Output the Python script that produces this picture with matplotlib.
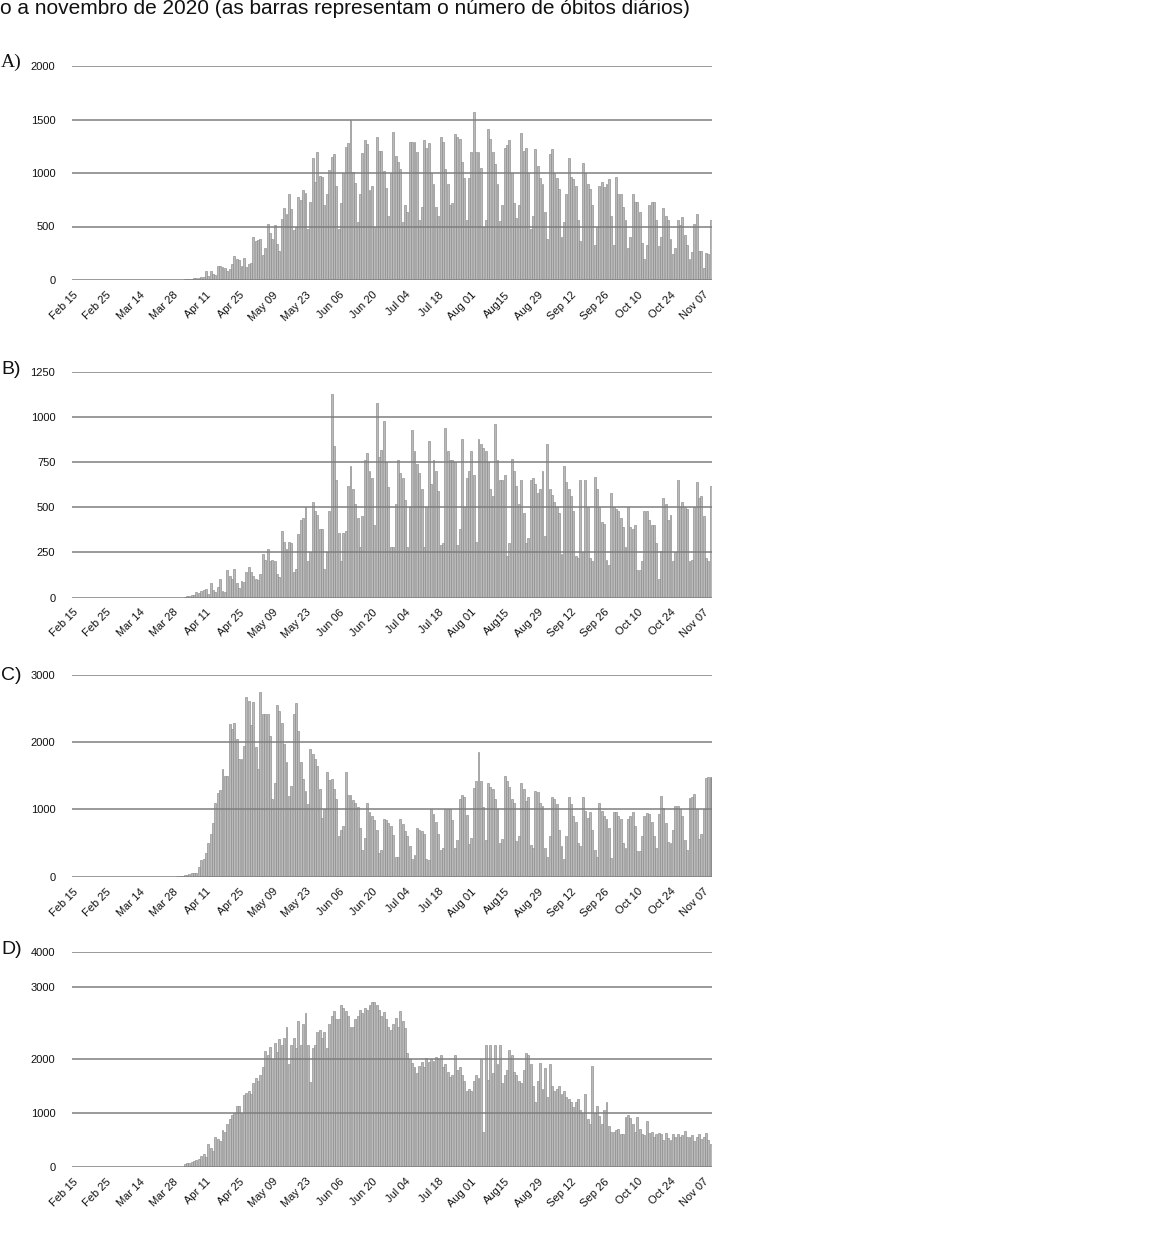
import numpy as np
import matplotlib
matplotlib.use("Agg")
import matplotlib.pyplot as plt

# ---------------- data (daily deaths) ----------------
tick_labels = ["Feb 15", "Feb 25", "Mar 14", "Mar 28", "Apr 11", "Apr 25", "May 09",
               "May 23", "Jun 06", "Jun 20", "Jul 04", "Jul 18", "Aug 01", "Aug15",
               "Aug 29", "Sep 12", "Sep 26", "Oct 10", "Oct 24", "Nov 07"]
tick_days = [0, 14, 28, 42, 56, 70, 84, 98, 112, 126, 140, 154, 168, 182,
             196, 210, 224, 238, 252, 266]

a_start = 47
a_vals = [5, 8, 10, 12, 15, 18, 20,
          25, 30, 80, 40, 82, 60, 50,
          135, 130, 120, 115, 80, 100, 150,
          220, 200, 190, 130, 210, 120, 150,
          160, 400, 360, 370, 380, 230, 300,
          520, 440, 380, 510, 340, 270, 570,
          670, 620, 800, 660, 470, 500, 780,
          750, 840, 810, 480, 730, 1140, 920,
          1200, 970, 960, 700, 800, 1030, 1150,
          1180, 880, 480, 720, 1000, 1240, 1280,
          1500, 1010, 910, 540, 800, 1190, 1310,
          1270, 840, 880, 500, 1340, 1210, 1210, 1020, 860, 600,
          1000, 1380, 1160, 1100, 1040, 540, 700, 640, 1290, 1290,
          1290, 1200, 560, 680, 1310, 1230, 1280, 1000, 900, 680,
          600, 1340, 1290, 1040, 900, 700, 720, 1360, 1340, 1320,
          1100, 950, 560, 950, 1200, 1570, 1200, 1200, 1050, 500,
          560, 1410, 1320, 1200, 1080, 900, 550, 700, 1230, 1260,
          1310, 1000, 720, 580, 700, 1370, 1210, 1230, 1000, 480,
          600, 1220, 1070, 950, 900, 640, 380, 1180, 1220, 1000,
          950, 850, 400, 540, 800, 1140, 960, 940, 880, 560,
          360, 1090, 1000, 900, 850, 700, 330, 500, 880, 920,
          870, 900, 940, 600, 330, 960, 800, 800, 680, 560,
          300, 400, 800, 730, 730, 640, 350, 200, 330, 700,
          730, 730, 560, 320, 400, 670, 600, 560, 380, 240,
          300, 560, 510, 590, 420, 330, 200, 260, 520, 620,
          270, 270, 110, 250, 240, 560]

b_start = 47
b_vals = [5, 8, 10, 12, 15, 30, 25,
          35, 40, 45, 20, 80, 40, 30,
          60, 105, 35, 30, 150, 120, 100,
          160, 80, 50, 90, 85, 140, 170,
          140, 120, 100, 95, 130, 240, 210,
          270, 200, 210, 200, 130, 115, 370,
          310, 270, 310, 300, 140, 160, 350,
          430, 440, 500, 200, 250, 530, 480,
          460, 380, 380, 160, 250, 480, 1130,
          840, 650, 360, 200, 360, 370, 620,
          730, 600, 520, 440, 280, 450, 760,
          800, 700, 660, 400, 1080, 780, 820,
          980, 750, 610, 280, 280, 520, 760,
          690, 660, 540, 280, 500, 930, 810,
          740, 690, 600, 280, 500, 870, 630,
          760, 700, 590, 290, 300, 940, 810,
          760, 760, 750, 290, 380, 880, 500,
          660, 700, 810, 680, 310, 880, 850,
          830, 810, 750, 600, 560, 960, 760,
          650, 650, 680, 230, 300, 770, 700,
          620, 520, 650, 470, 300, 330, 650,
          660, 630, 580, 600, 700, 340, 850,
          600, 570, 530, 500, 470, 240, 730,
          640, 600, 560, 480, 230, 220, 650,
          250, 650, 500, 220, 200, 670, 600,
          500, 420, 410, 210, 180, 580, 500,
          490, 480, 440, 390, 280, 500, 390,
          380, 400, 150, 150, 200, 480, 480,
          430, 400, 400, 300, 100, 260, 550,
          520, 430, 460, 200, 250, 650, 500,
          530, 500, 490, 200, 210, 500, 640,
          550, 560, 450, 220, 200, 620]

c_start = 44
c_vals = [5, 10, 15, 20, 30, 40, 50,
          60, 60, 150, 250, 270, 350, 500,
          640, 800, 1100, 1250, 1290, 1600, 1500,
          1500, 2270, 2200, 2280, 2050, 1750, 1750,
          1950, 2680, 2620, 2250, 2600, 1930, 1600,
          2740, 2420, 2420, 2420, 2100, 1150, 1400,
          2550, 2460, 2280, 1980, 1700, 1200, 1350,
          2420, 2580, 2170, 1700, 1450, 1280, 1080,
          1900, 1820, 1750, 1640, 1300, 880, 1000,
          1560, 1440, 1450, 1300, 1150, 610, 700,
          760, 1560, 1220, 1220,
          1140, 1100, 1030, 720, 400, 570, 1100, 960, 900, 850,
          700, 350, 400, 860, 840, 800, 750, 620, 300, 300,
          860, 780, 680, 600, 460, 260, 320, 720, 700, 680,
          630, 260, 250, 1000, 930, 820, 630, 400, 420, 1000,
          1000, 1000, 850, 420, 550, 1150, 1210, 1180, 920, 480,
          580, 1320, 1420, 1850, 1420, 1040, 550, 1400, 1330, 1300,
          1150, 1000, 500, 560, 1500, 1420, 1340, 1150, 1100, 530,
          600, 1400, 1300, 1130, 1180, 470, 430, 1280, 1260, 1100,
          1050, 420, 300, 600, 1190, 1150, 1080, 700, 450, 270,
          600, 1190, 1080, 900, 820, 500, 450, 1190, 970, 880,
          960, 700, 400, 300, 1100, 980, 900, 860, 730, 280,
          960, 960, 900, 860, 500, 420, 860, 900, 960, 760,
          380, 380, 600, 900, 950, 940, 820, 600, 420, 930,
          1200, 1020, 800, 520, 500, 700, 1050, 1050, 1000, 900,
          550, 400, 1170, 1180, 1230, 1000, 560, 630, 1000, 1470,
          1490, 1490]

d_start = 47
d_vals = [50, 60, 70, 80, 100, 130, 150, 200, 230, 180,
          420, 350, 300, 560, 520, 480, 680, 640, 800, 880,
          960, 1000, 1120, 1130, 1000, 1330, 1370, 1400, 1350, 1550,
          1650, 1600, 1700, 1850, 2116, 2050, 2170, 2000, 2218, 2100,
          2285, 2200, 2300, 2450, 1900, 2190, 2300, 2150, 2525, 2200,
          2490, 2640, 2200, 1580, 2150, 2200, 2375, 2410, 2300, 2375,
          2150, 2490, 2600, 2675, 2560, 2560, 2755, 2710, 2675, 2600, 2450,
          2450, 2560, 2600, 2680, 2640, 2710, 2680, 2755, 2790, 2790,
          2755, 2680, 2600, 2660, 2560, 2450, 2410, 2490, 2570, 2450,
          2670, 2530, 2440, 2080, 2000, 1920, 1860, 1735, 1870, 1950,
          1850, 2010, 1950, 2000, 1970, 2030, 2000, 2050, 1850, 1900,
          1750, 1660, 1700, 2050, 1800, 1850, 1700, 1600, 1400, 1450,
          1400, 1600, 1700, 1650, 2000, 650, 2200, 1610, 2200, 1735,
          2200, 1900, 2200, 1550, 1700, 1800, 2125, 2055, 1750, 1700,
          1600, 1550, 1800, 2080, 2055, 1900, 1500, 1207, 1600, 1930,
          1450, 1825, 1300, 1907, 1500, 1400, 1450, 1500, 1350, 1400,
          1300, 1250, 1200, 1100, 1200, 1250, 1050, 1000, 1350, 880,
          800, 1870, 1000, 1133, 950, 800, 1050, 1207, 750, 650,
          650, 680, 700, 600, 600, 930, 960, 900, 800, 650,
          930, 700, 600, 590, 850, 620, 650, 550, 600, 620,
          600, 500, 630, 540, 500, 600, 550, 600, 550, 580,
          656, 550, 560, 580, 480, 560, 600, 520, 560, 620,
          500, 420, 400]

a_yticks = [0, 500, 1000, 1500, 2000]
b_yticks = [0, 250, 500, 750, 1000, 1250]
c_yticks = [0, 1000, 2000, 3000]
d_yticks = [0, 1000, 2000, 3000, 4000]

title_text = "o a novembro de 2020 (as barras representam o número de óbitos diários)"

# ---------------- drawing ----------------
W, H = 1155, 1243
fig = plt.figure(figsize=(W / 100, H / 100), dpi=100)
fig.patch.set_facecolor("white")

BAR = "#bababa"
EDGE = "#8a8a8a"
GRID = "#7e7e7e"
TXT = "#111111"

# D has an uneven vertical axis in the source: spacing above 2000 is stretched
d_in = [-1000, 0, 2000, 3000, 4000, 10000]
d_out = [-1000, 0, 2000, 3331, 3994, 7972]


def d_fwd(y):
    return np.interp(y, d_in, d_out)


def d_inv(y):
    return np.interp(y, d_out, d_in)


panels = [
    ("A)", a_start, a_vals, a_yticks, (280, 66), "Liberation Serif", 62, False),
    ("B)", b_start, b_vals, b_yticks, (597.5, 372), "Liberation Sans", 369, False),
    ("C)", c_start, c_vals, c_yticks, (876.7, 675), "Liberation Sans", 675, True),
    ("D)", d_start, d_vals, d_yticks, (1166.7, 951.7), "Liberation Sans", 950, True),
]

for label, start, vals, yt, (ybot, ytop), lfont, ly, dark_last in panels:
    ax = fig.add_axes([72 / W, 1 - ybot / H, 640 / W, (ybot - ytop) / H])
    days = start + np.arange(len(vals))
    colors = [BAR] * len(vals)
    if dark_last:
        colors[-1] = "#8c8c8c"
    ax.bar(days, vals, width=0.8, color=colors, edgecolor=EDGE,
           linewidth=0.45, zorder=1)
    if label == "D)":
        ax.set_yscale("function", functions=(d_fwd, d_inv))
    ax.set_xlim(-0.5, 269.5)
    ax.set_ylim(yt[0], yt[-1])
    ax.set_yticks(yt)
    ax.set_yticklabels([str(v) for v in yt], fontsize=8, color=TXT,
                       family="Liberation Sans")
    ax.set_xticks(tick_days)
    ax.set_xticklabels(tick_labels, rotation=45, ha="right", va="top",
                       rotation_mode="anchor", fontsize=8, color=TXT,
                       family="Liberation Sans")
    ax.tick_params(axis="both", length=0)
    ax.tick_params(axis="y", pad=12)
    ax.tick_params(axis="x", pad=7)
    for s in ax.spines.values():
        s.set_visible(False)
    ax.set_axisbelow(False)
    ax.yaxis.grid(True, color=GRID, linewidth=1.1, zorder=3)
    ax.xaxis.grid(False)
    ax.set_facecolor("white")
    fig.text(1 / W, 1 - ly / H, label, ha="left", va="center",
             fontsize=14, color=TXT, family=lfont)

fig.text(0.0, 1 - 9 / H, title_text, ha="left", va="center", fontsize=15,
         color=TXT, family="Liberation Sans")

fig.savefig("out.png", dpi=100, facecolor="white")
